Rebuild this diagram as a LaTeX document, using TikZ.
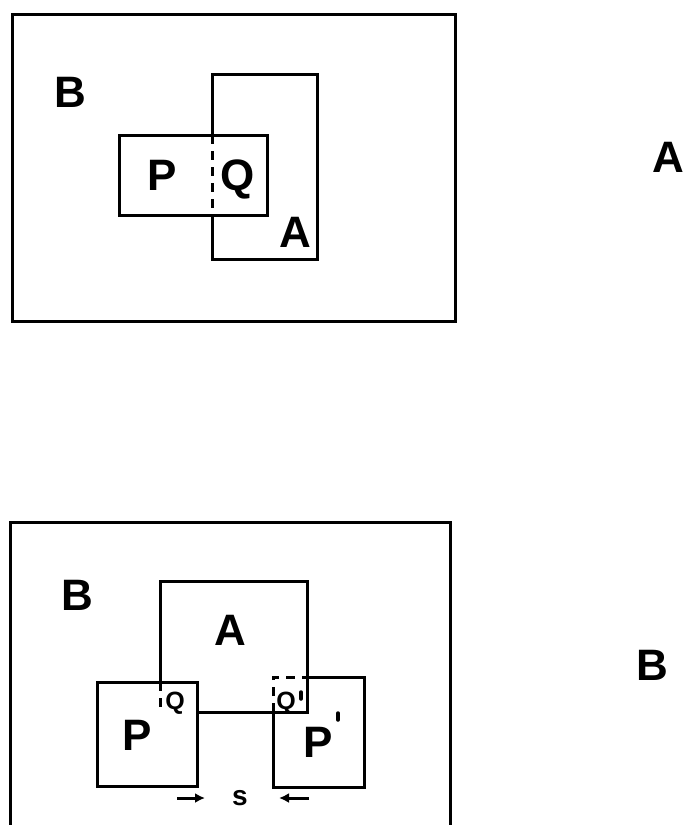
\documentclass[tikz,border=0pt]{standalone}
\usepackage{fontspec}
\setmainfont{Liberation Sans}
\usetikzlibrary{arrows.meta}
\begin{document}
\begin{tikzpicture}[x=1pt,y=-1pt,
  frame/.style={line width=3pt, line join=miter},
  hidden/.style={line width=3pt, dash pattern=on 9pt off 7pt},
  lab/.style={inner sep=0pt, anchor=base, font=\bfseries\fontsize{44}{44}\selectfont},
  smalllab/.style={inner sep=0pt, anchor=base, font=\bfseries\fontsize{25}{25}\selectfont},
  slab/.style={inner sep=0pt, anchor=base, font=\bfseries\fontsize{28}{28}\selectfont},
  tick/.style={line width=3.5pt, line cap=round},
  push/.style={line width=3pt, -{Latex[length=10pt,width=10pt]}}]
\useasboundingbox (0,0) rectangle (683,825);

% ---------- panel A: overlap Q of region P with A ----------
\draw[frame] (12,14) rectangle (455,321);
% region A, its left side hidden where P lies over it
\draw[frame] (212,135) -- (212,74) -- (317,74) -- (317,259) -- (212,259) -- (212,215);
\draw[hidden] (212,135) -- (212,215);
% region P
\draw[frame] (119,135) rectangle (267,215);
\node[lab] (tB) at (70,107) {B};
\node[lab] (tP) at (162,190) {P};
\node[lab] (tQ) at (238,190) {Q};
\node[lab] (tA) at (295,247) {A};
\node[lab] (capA) at (668,172) {A};

% ---------- panel B: P and P' pushed together by s ----------
\draw[frame] (10,825) -- (10,522) -- (450,522) -- (450,825);
% region A
\draw[frame] (160,682) -- (160,581) -- (307,581) -- (307,712) -- (197,712);
\draw[hidden] (160,682) -- (160,712);
% region P
\draw[frame] (97,682) rectangle (197,786);
% region P'
\draw[frame] (273,712) -- (273,787) -- (364,787) -- (364,677) -- (307,677);
\draw[hidden] (273,712) -- (273,677) -- (307,677);

\node[lab] (bB) at (77,610) {B};
\node[lab] (bA) at (230,645) {A};
\node[smalllab] (bQ) at (175,709) {Q};
\node[smalllab] (bQp) at (286,709) {Q};
\draw[tick] (301,692) -- (301,699);
\node[lab] (bP) at (137,750) {P};
\node[lab] (bPp) at (318,757) {P};
\draw[tick] (338,713) -- (338,720);
\node[slab] (bs) at (240,805) {s};
\coordinate (sl) at (177,798);
\coordinate (slt) at (205,798);
\coordinate (sr) at (309,798);
\coordinate (srt) at (279,798);
\draw[push] (sl) -- (slt);
\draw[push] (sr) -- (srt);
\node[lab] (capB) at (652,680) {B};
\end{tikzpicture}
\end{document}
